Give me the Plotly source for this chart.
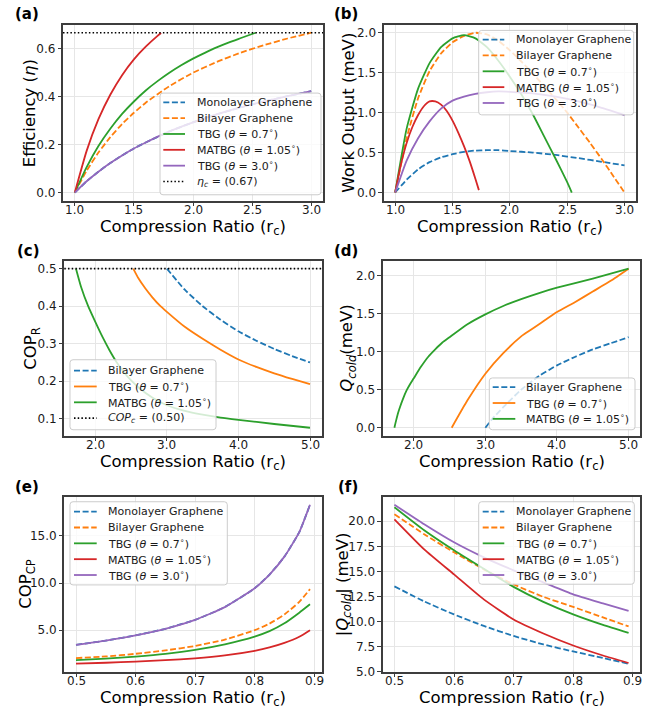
import math
import plotly.graph_objects as go

W, H = 662, 715
FONT = "DejaVu Sans"
BLUE, ORANGE, GREEN, RED, PURPLE = "#1f77b4", "#ff7f0e", "#2ca02c", "#d62728", "#9467bd"
DASH = "6px,2.6px"
DOT = "1.5px,2.2px"

N_MONO = "Monolayer Graphene"
N_BI = "Bilayer Graphene"
N_TBG07 = "TBG (<i>θ</i> = 0.7<sup>∘</sup>)"
N_MATBG = "MATBG (<i>θ</i> = 1.05<sup>∘</sup>)"
N_TBG3 = "TBG (<i>θ</i> = 3.0<sup>∘</sup>)"

# ---------------- (a) Efficiency ----------------
A_MONO_X = [1.0, 1.1, 1.2, 1.3, 1.4, 1.5, 1.6, 1.8, 2.0, 2.2, 2.4, 2.6, 2.8, 3.0]
A_MONO_Y = [0.0, 0.047, 0.087, 0.123, 0.155, 0.184, 0.209, 0.255, 0.293, 0.326, 0.355, 0.380, 0.402, 0.423]
A_BI_X = [1.0, 1.1, 1.2, 1.3, 1.4, 1.5, 1.6, 1.8, 2.0, 2.2, 2.4, 2.6, 2.8, 3.0]
A_BI_Y = [0.0, 0.091, 0.167, 0.231, 0.286, 0.333, 0.375, 0.444, 0.500, 0.545, 0.583, 0.615, 0.643, 0.667]
A_TBG07_X = [1.0, 1.1, 1.2, 1.3, 1.4, 1.5, 1.6, 1.7, 1.8, 1.9, 2.0, 2.1, 2.2, 2.3, 2.4, 2.53]
A_TBG07_Y = [0.0, 0.106, 0.194, 0.266, 0.328, 0.380, 0.426, 0.465, 0.500, 0.531, 0.559, 0.583, 0.606, 0.626, 0.644, 0.667]
A_MATBG_X = [1.0, 1.1, 1.2, 1.3, 1.4, 1.5, 1.6, 1.7, 1.73]
A_MATBG_Y = [0.0, 0.174, 0.306, 0.408, 0.490, 0.556, 0.609, 0.654, 0.666]
A_TBG3_X = [1.0, 1.1, 1.2, 1.3, 1.4, 1.5, 1.6, 1.8, 2.0, 2.2, 2.4, 2.6, 2.8, 3.0]
A_TBG3_Y = [0.0, 0.047, 0.087, 0.123, 0.155, 0.184, 0.209, 0.255, 0.293, 0.326, 0.355, 0.380, 0.402, 0.423]
ETA_C = 0.667

# ---------------- (b) Work output ----------------
B_MONO_X = [1.0, 1.1, 1.2, 1.3, 1.4, 1.5, 1.6, 1.7, 1.8, 1.9, 2.0, 2.2, 2.4, 2.6, 2.8, 3.0]
B_MONO_Y = [0.0, 0.16, 0.29, 0.38, 0.44, 0.48, 0.51, 0.525, 0.53, 0.53, 0.52, 0.50, 0.47, 0.43, 0.385, 0.34]
B_BI_X = [1.0, 1.1, 1.2, 1.3, 1.4, 1.5, 1.6, 1.7, 1.8, 1.9, 2.0, 2.1, 2.2, 2.3, 2.4, 2.5, 2.6, 2.7, 2.8, 2.9, 3.0]
B_BI_Y = [0.0, 0.68, 1.18, 1.52, 1.74, 1.88, 1.96, 2.0, 1.98, 1.90, 1.78, 1.64, 1.49, 1.33, 1.17, 1.00, 0.81, 0.62, 0.42, 0.21, 0.0]
B_TBG07_X = [1.0, 1.1, 1.2, 1.3, 1.4, 1.5, 1.6, 1.7, 1.8, 1.9, 2.0, 2.1, 2.2, 2.3, 2.4, 2.5, 2.54]
B_TBG07_Y = [0.0, 0.80, 1.30, 1.62, 1.82, 1.93, 1.97, 1.93, 1.82, 1.65, 1.45, 1.23, 0.98, 0.70, 0.42, 0.13, 0.0]
B_MATBG_X = [1.0, 1.05, 1.1, 1.15, 1.2, 1.25, 1.3, 1.35, 1.4, 1.45, 1.5, 1.55, 1.6, 1.65, 1.7, 1.73]
B_MATBG_Y = [0.0, 0.35, 0.62, 0.82, 0.97, 1.08, 1.14, 1.14, 1.10, 1.02, 0.90, 0.75, 0.58, 0.39, 0.17, 0.03]
B_TBG3_X = [1.0, 1.1, 1.2, 1.3, 1.4, 1.5, 1.6, 1.7, 1.8, 1.9, 2.0, 2.2, 2.4, 2.6, 2.8, 3.0]
B_TBG3_Y = [0.0, 0.40, 0.68, 0.89, 1.05, 1.15, 1.20, 1.235, 1.255, 1.265, 1.26, 1.24, 1.20, 1.14, 1.06, 0.97]

# ---------------- (c) COP_R ----------------
C_BI_X = [3.0, 3.25, 3.5, 3.75, 4.0, 4.25, 4.5, 4.75, 5.0]
C_BI_Y = [0.5, 0.444, 0.400, 0.364, 0.333, 0.308, 0.286, 0.267, 0.250]
C_TBG07_X = [2.53, 2.6, 2.7, 2.8, 2.9, 3.0, 3.25, 3.5, 3.75, 4.0, 4.25, 4.5, 4.75, 5.0]
C_TBG07_Y = [0.50, 0.475, 0.447, 0.423, 0.402, 0.385, 0.345, 0.313, 0.284, 0.258, 0.238, 0.221, 0.206, 0.192]
C_MATBG_X = [1.73, 1.8, 1.9, 2.0, 2.1, 2.2, 2.3, 2.4, 2.5, 2.6, 2.8, 3.0, 3.25, 3.5, 3.75, 4.0, 4.5, 5.0]
C_MATBG_Y = [0.50, 0.452, 0.400, 0.358, 0.318, 0.282, 0.250, 0.224, 0.202, 0.184, 0.156, 0.136, 0.121, 0.111, 0.103, 0.097, 0.086, 0.076]
COP_C = 0.50

# ---------------- (d) Q_cold ----------------
D_BI_X = [3.0, 3.1, 3.25, 3.5, 3.75, 4.0, 4.25, 4.5, 4.75, 5.0]
D_BI_Y = [0.0, 0.12, 0.27, 0.50, 0.68, 0.82, 0.93, 1.03, 1.11, 1.19]
D_TBG07_X = [2.53, 2.75, 3.0, 3.25, 3.5, 3.56, 3.75, 4.0, 4.25, 4.5, 4.75, 5.0]
D_TBG07_Y = [0.0, 0.36, 0.71, 0.98, 1.20, 1.24, 1.36, 1.52, 1.65, 1.79, 1.93, 2.09]
D_MATBG_X = [1.73, 1.75, 1.78, 1.8, 1.85, 1.9, 1.95, 2.0, 2.1, 2.2, 2.3, 2.4, 2.5, 2.75, 3.0, 3.25, 3.5, 3.75, 4.0, 4.5, 5.0]
D_MATBG_Y = [0.0, 0.08, 0.19, 0.25, 0.38, 0.49, 0.575, 0.65, 0.80, 0.93, 1.03, 1.12, 1.19, 1.36, 1.49, 1.60, 1.69, 1.77, 1.84, 1.96, 2.09]

# ---------------- (e) COP_CP ----------------
E_X = [0.5, 0.55, 0.6, 0.65, 0.7, 0.75, 0.8, 0.825, 0.85, 0.875, 0.893]
E_MONO = [3.45, 3.9, 4.45, 5.15, 6.1, 7.45, 9.45, 10.9, 12.8, 15.4, 18.3]
E_BI = [2.05, 2.22, 2.5, 2.86, 3.33, 4.0, 5.0, 5.7, 6.67, 8.0, 9.35]
E_TBG07 = [1.82, 1.98, 2.21, 2.5, 2.91, 3.5, 4.32, 4.9, 5.73, 6.86, 7.75]
E_MATBG = [1.45, 1.55, 1.67, 1.82, 2.02, 2.33, 2.82, 3.17, 3.65, 4.3, 5.0]
E_TBG3 = [3.45, 3.9, 4.45, 5.15, 6.1, 7.45, 9.45, 10.9, 12.8, 15.4, 18.3]

# ---------------- (f) |Q_cold| ----------------
F_X = [0.5, 0.55, 0.6, 0.65, 0.7, 0.75, 0.8, 0.85, 0.893]
F_MONO = [13.5, 12.0, 10.7, 9.55, 8.55, 7.7, 7.0, 6.35, 5.78]
F_BI = [20.7, 18.7, 16.9, 15.2, 13.7, 12.45, 11.45, 10.4, 9.5]
F_TBG07 = [21.4, 19.1, 17.1, 15.25, 13.45, 11.95, 10.7, 9.65, 8.85]
F_MATBG = [20.2, 17.2, 14.7, 12.2, 10.2, 8.8, 7.6, 6.6, 5.85]
F_TBG3 = [21.65, 19.7, 17.9, 16.4, 15.1, 13.9, 12.7, 11.8, 11.05]

XTITLE = "Compression Ratio (r<sub>c</sub>)"


def px(x):
    return x / W


def py(y):
    return 1 - y / H


panels = [
    dict(label="(a)", label_xy=(13, 13.7), box=(63, 25, 323, 202.5),
         traces=[(A_MONO_X, A_MONO_Y, N_MONO, BLUE, DASH), (A_BI_X, A_BI_Y, N_BI, ORANGE, DASH),
                 (A_TBG07_X, A_TBG07_Y, N_TBG07, GREEN, "solid"), (A_MATBG_X, A_MATBG_Y, N_MATBG, RED, "solid"),
                 (A_TBG3_X, A_TBG3_Y, N_TBG3, PURPLE, "solid")],
         hline=(ETA_C, "<i>η<sub>c</sub></i> = (0.67)"), dx=0.5, dy=0.2,
         ytitle="Efficiency (<i>η</i>)", ytitle_x=29.5,
         legend=(160, 94, 321, 196.7, 103.3, 163.3, 185, 195)),
    dict(label="(b)", label_xy=(331.5, 13.7), box=(383.7, 25, 636, 202.5),
         traces=[(B_MONO_X, B_MONO_Y, N_MONO, BLUE, DASH), (B_BI_X, B_BI_Y, N_BI, ORANGE, DASH),
                 (B_TBG07_X, B_TBG07_Y, N_TBG07, GREEN, "solid"), (B_MATBG_X, B_MATBG_Y, N_MATBG, RED, "solid"),
                 (B_TBG3_X, B_TBG3_Y, N_TBG3, PURPLE, "solid")],
         hline=None, dx=0.5, dy=0.5,
         ytitle="Work Output (meV)", ytitle_x=349,
         legend=(478.7, 30.7, 633.7, 116, 40, 482.7, 504.3, 513.7)),
    dict(label="(c)", label_xy=(15, 253.3), box=(64.3, 263.3, 321.7, 440),
         traces=[(C_BI_X, C_BI_Y, N_BI, BLUE, DASH), (C_TBG07_X, C_TBG07_Y, N_TBG07, ORANGE, "solid"),
                 (C_MATBG_X, C_MATBG_Y, N_MATBG, GREEN, "solid")],
         hline=(COP_C, "<i>COP<sub>c</sub></i> = (0.50)"), dx=1.0, dy=0.1,
         ytitle="COP<sub>R</sub>", ytitle_x=31.5,
         legend=(70, 363.3, 216, 434, 374.3, 74, 96.7, 106)),
    dict(label="(d)", label_xy=(331.5, 253.3), box=(382.7, 263.3, 640.3, 440),
         traces=[(D_BI_X, D_BI_Y, N_BI, BLUE, DASH), (D_TBG07_X, D_TBG07_Y, N_TBG07, ORANGE, "solid"),
                 (D_MATBG_X, D_MATBG_Y, N_MATBG, GREEN, "solid")],
         hline=None, dx=1.0, dy=0.5,
         ytitle="<i>Q<sub>cold</sub></i>(meV)", ytitle_x=347.5,
         legend=(489.3, 381.7, 635, 434, 391, 492.7, 515.3, 524.3)),
    dict(label="(e)", label_xy=(13, 491.7), box=(64.3, 501.7, 321.7, 678.3),
         traces=[(E_X, E_MONO, N_MONO, BLUE, DASH), (E_X, E_BI, N_BI, ORANGE, DASH),
                 (E_X, E_TBG07, N_TBG07, GREEN, "solid"), (E_X, E_MATBG, N_MATBG, RED, "solid"),
                 (E_X, E_TBG3, N_TBG3, PURPLE, "solid")],
         hline=None, dx=0.1, dy=5.0,
         ytitle="COP<sub>CP</sub>", ytitle_x=26.5,
         legend=(70, 506.7, 227.3, 590.7, 516.7, 74, 96.7, 106)),
    dict(label="(f)", label_xy=(336, 491.7), box=(382.7, 501.7, 640.3, 678.3),
         traces=[(F_X, F_MONO, N_MONO, BLUE, DASH), (F_X, F_BI, N_BI, ORANGE, DASH),
                 (F_X, F_TBG07, N_TBG07, GREEN, "solid"), (F_X, F_MATBG, N_MATBG, RED, "solid"),
                 (F_X, F_TBG3, N_TBG3, PURPLE, "solid")],
         hline=None, dx=0.1, dy=2.5,
         ytitle="|<i>Q<sub>cold</sub></i>| (meV)", ytitle_x=343,
         legend=(478.7, 506.7, 634.3, 590, 516.7, 482.7, 504.3, 513.7)),
]

fig = go.Figure()
shapes = []
annotations = []
layout = dict(width=W, height=H, margin=dict(l=0, r=0, t=0, b=0),
              paper_bgcolor="white", plot_bgcolor="white", showlegend=False,
              font=dict(family=FONT, color="#1a1a1a"))

SPINE = "#3d3d3d"
TICKFONT = dict(family=FONT, size=12, color="#1a1a1a")
axis_common = dict(showline=True, linecolor=SPINE, linewidth=1.5, mirror=True,
                   ticks="outside", ticklen=3.5, tickwidth=1.1, tickcolor=SPINE,
                   showgrid=True, gridcolor="#e6e6e6", gridwidth=0.8, zeroline=False,
                   tickfont=TICKFONT, tickformat=".1f")


def rounded_path(l, t, r, b, rad=3.0):
    def P(x, y):
        return f"{px(x):.6f},{py(y):.6f}"
    pts = [f"M {P(l + rad, t)}", f"L {P(r - rad, t)}", f"Q {P(r, t)} {P(r, t + rad)}",
           f"L {P(r, b - rad)}", f"Q {P(r, b)} {P(r - rad, b)}", f"L {P(l + rad, b)}",
           f"Q {P(l, b)} {P(l, b - rad)}", f"L {P(l, t + rad)}", f"Q {P(l, t)} {P(l + rad, t)} Z"]
    return " ".join(pts)


for i, p in enumerate(panels):
    n = i + 1
    xa = "x" if n == 1 else f"x{n}"
    ya = "y" if n == 1 else f"y{n}"
    l, t, r, b = p["box"]
    allx = [v for tr in p["traces"] for v in tr[0]]
    ally = [v for tr in p["traces"] for v in tr[1]]
    if p["hline"] is not None:
        ally.append(p["hline"][0])
    x0, x1 = min(allx), max(allx)
    y0, y1 = min(ally), max(ally)
    mx, my = 0.05 * (x1 - x0), 0.05 * (y1 - y0)
    xr = [x0 - mx, x1 + mx]
    for (xs, ys, name, color, dash) in p["traces"]:
        fig.add_trace(go.Scatter(x=xs, y=ys, name=name, mode="lines",
                                 line=dict(color=color, width=1.8, dash=dash, shape="spline", smoothing=0.5),
                                 xaxis=xa, yaxis=ya, showlegend=False))
    xkey = "xaxis" if n == 1 else f"xaxis{n}"
    ykey = "yaxis" if n == 1 else f"yaxis{n}"
    layout[xkey] = dict(axis_common, domain=[px(l), px(r)], anchor=ya,
                        range=xr, dtick=p["dx"], tick0=0, showticklabels=False)
    layout[ykey] = dict(axis_common, domain=[py(b), py(t)], anchor=xa,
                        range=[y0 - my, y1 + my], dtick=p["dy"], tick0=0)
    # x tick labels placed just under the axis (matplotlib-like spacing)
    k0 = math.ceil(xr[0] / p["dx"] - 1e-9)
    k1 = math.floor(xr[1] / p["dx"] + 1e-9)
    for k in range(k0, k1 + 1):
        v = k * p["dx"]
        annotations.append(dict(text=f"{v:.1f}", x=v, xref=xa, y=py(b + 9.8), yref="paper",
                                xanchor="center", yanchor="middle", showarrow=False, font=TICKFONT,
                                borderpad=0))
    if p["hline"] is not None:
        shapes.append(dict(type="line", xref=f"{xa} domain", yref=ya, x0=0, x1=1,
                           y0=p["hline"][0], y1=p["hline"][0], layer="above",
                           line=dict(color="black", width=1.6, dash=DOT)))
    annotations.append(dict(text=f"<b>{p['label']}</b>", x=px(p["label_xy"][0]), y=py(p["label_xy"][1]),
                            xref="paper", yref="paper", xanchor="left", yanchor="middle",
                            showarrow=False, font=dict(family=FONT, size=15, color="black")))
    annotations.append(dict(text=XTITLE, x=px((l + r) / 2), y=py(b + 27.5), xref="paper", yref="paper",
                            xanchor="center", yanchor="middle", showarrow=False, borderpad=0,
                            font=dict(family=FONT, size=16.5, color="black")))
    annotations.append(dict(text=p["ytitle"], x=px(p["ytitle_x"]), y=py((t + b) / 2), xref="paper", yref="paper",
                            xanchor="center", yanchor="middle", showarrow=False, textangle=-90,
                            font=dict(family=FONT, size=16.5, color="black")))
    bl, bt, br, bb, row0, lx0, lx1, tx = p["legend"]
    shapes.append(dict(type="path", xref="paper", yref="paper", path=rounded_path(bl, bt, br, bb),
                       fillcolor="rgba(255,255,255,0.8)", line=dict(color="#cccccc", width=1), layer="above"))
    entries = [(tr[2], tr[3], tr[4]) for tr in p["traces"]]
    if p["hline"] is not None:
        entries.append((p["hline"][1], "black", DOT))
    for k, (name, color, dash) in enumerate(entries):
        yy = row0 + 16 * k
        shapes.append(dict(type="line", xref="paper", yref="paper", x0=px(lx0), x1=px(lx1),
                           y0=py(yy), y1=py(yy), layer="above",
                           line=dict(color=color, width=1.8 if dash != DOT else 1.6, dash=dash)))
        annotations.append(dict(text=name, x=px(tx), y=py(yy), xref="paper", yref="paper",
                                xanchor="left", yanchor="middle", showarrow=False,
                                font=dict(family=FONT, size=11, color="#1a1a1a")))

layout["shapes"] = shapes
layout["annotations"] = annotations
fig.update_layout(**layout)
fig.write_html("out.html")
